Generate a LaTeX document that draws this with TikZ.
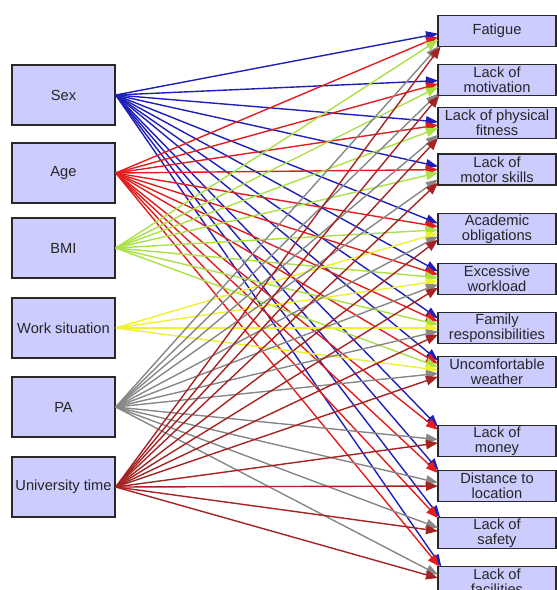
\documentclass[tikz,border=0pt]{standalone}
\usepackage{fontspec}
\setmainfont{Liberation Sans}
\usetikzlibrary{arrows.meta}
\definecolor{boxfill}{RGB}{204,204,255}
\definecolor{boxline}{RGB}{40,40,40}
\definecolor{cSex}{RGB}{30,30,185}
\definecolor{cAge}{RGB}{225,30,30}
\definecolor{cBMI}{RGB}{170,225,70}
\definecolor{cWork}{RGB}{240,240,50}
\definecolor{cPA}{RGB}{135,135,135}
\definecolor{cUni}{RGB}{165,35,35}
\begin{document}
\begin{tikzpicture}[x=0.75pt,y=-0.75pt,
  src/.style={draw=boxline, line width=1.1pt, fill=boxfill, minimum width=77.25pt,
    minimum height=45pt, inner sep=0pt, font=\fontsize{11}{11.6}\selectfont, text=black!85},
  tgt/.style={draw=boxline, line width=1.1pt, fill=boxfill, minimum width=88.5pt,
    minimum height=23.25pt, inner sep=0pt, align=center,
    font=\fontsize{11}{11.2}\selectfont, text=black!85},
  port/.style={rectangle, minimum width=21pt, minimum height=23.25pt,
    inner sep=0pt, outer sep=0pt},
  lnk/.style={line width=1.05pt, draw=#1, -{Triangle[length=9pt,width=7pt]}}
]
\clip (0,0) rectangle (557,590);
% sources
\node[src] (sex) at (63.5,95) {Sex};
\node[src] (age) at (63.5,173) {Age};
\node[src] (bmi) at (63.5,248) {BMI};
\node[src] (work) at (63.5,328) {Work situation};
\node[src] (pa) at (63.5,407) {PA};
\node[src] (uni) at (63.5,487) {University time};
% targets
\node[tgt] (fat) at (497,31) {Fatigue};
\node[tgt] (mot) at (497,80) {Lack of\\motivation};
\node[tgt] (fit) at (497,123) {Lack of physical\\fitness};
\node[tgt] (msk) at (497,169.5) {Lack of\\motor skills};
\node[tgt] (aca) at (497,229) {Academic\\obligations};
\node[tgt] (wrk) at (497,279) {Excessive\\workload};
\node[tgt] (fam) at (497,328) {Family\\responsibilities};
\node[tgt] (wea) at (497,372) {Uncomfortable\\weather};
\node[tgt] (mon) at (497,441) {Lack of\\money};
\node[tgt] (dis) at (497,486) {Distance to\\location};
\node[tgt] (saf) at (497,533) {Lack of\\safety};
\node[tgt] (fac) at (497,582) {Lack of\\facilities};
% entry ports (left part of each target box)
\foreach \t/\y in {fat/31,mot/80,fit/123,msk/169.5,aca/229,wrk/279,fam/328,wea/372,mon/441,dis/486,saf/533,fac/582}
  \node[port] (P-\t) at (452,\y) {};
% connectors
\foreach \t in {fat,mot,fit,msk,aca,wrk,fam,wea,mon,dis,saf,fac}
  \draw[lnk=cSex] (sex.east) -- (P-\t);
\foreach \t in {fat,mot,fit,msk,aca,wrk,fam,wea,mon,dis,saf,fac}
  \draw[lnk=cAge] (age.east) -- (P-\t);
\foreach \t in {fat,mot,fit,msk,aca,wrk,fam,wea}
  \draw[lnk=cBMI] (bmi.east) -- (P-\t);
\foreach \t in {aca,wrk,fam,wea}
  \draw[lnk=cWork] (work.east) -- (P-\t);
\foreach \t in {fat,mot,fit,msk,aca,wrk,fam,wea,mon,dis,saf,fac}
  \draw[lnk=cPA] (pa.east) -- (P-\t);
\foreach \t in {fat,mot,fit,msk,aca,wrk,fam,wea,mon,dis,saf,fac}
  \draw[lnk=cUni] (uni.east) -- (P-\t);
\end{tikzpicture}
\end{document}
